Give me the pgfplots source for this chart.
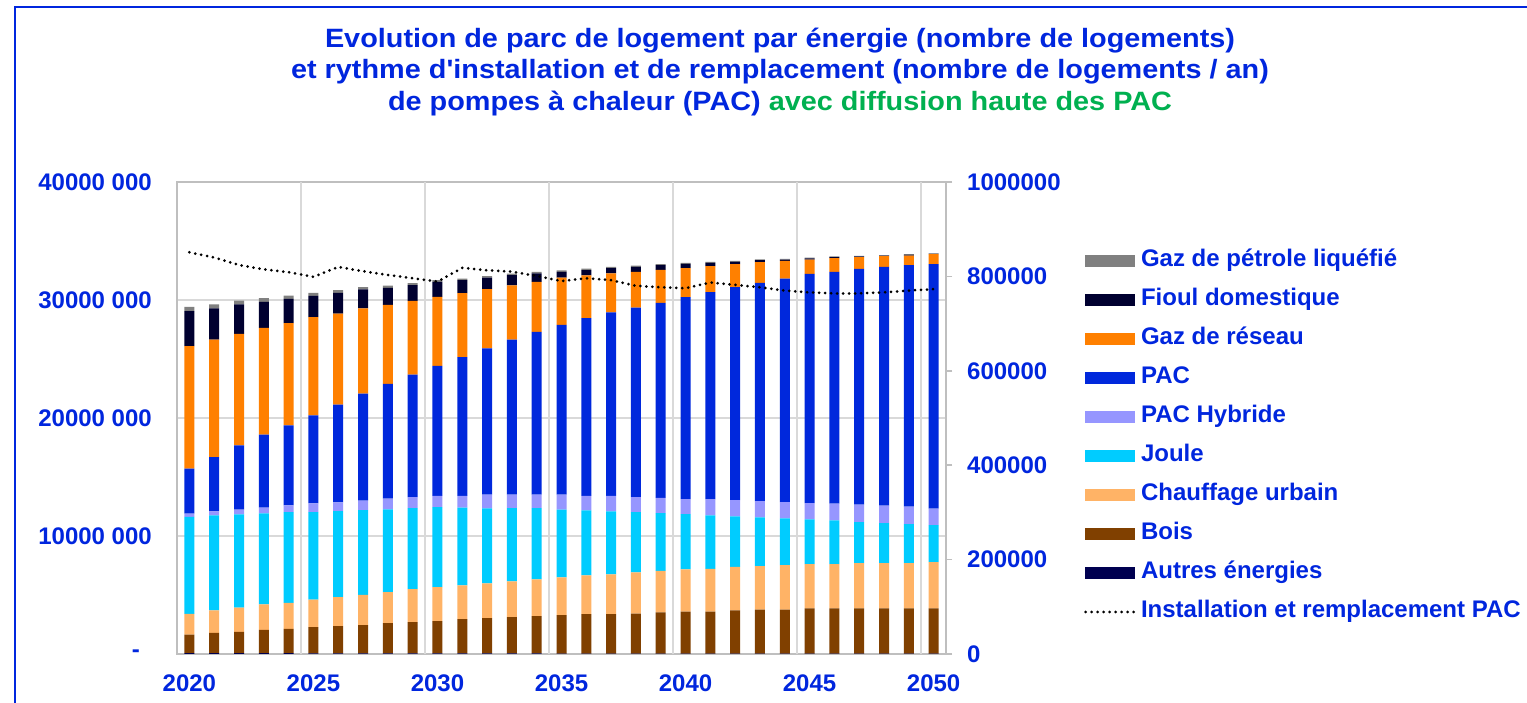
\documentclass[border=0pt]{standalone}
\usepackage{pgfplots}
\pgfplotsset{compat=1.18}
\usepackage{pgfplotstable}
\usepackage{fontspec}
\setmainfont{Liberation Sans}
\definecolor{txtblue}{RGB}{0,38,222}
\definecolor{txtgreen}{RGB}{0,176,80}
\definecolor{axgray}{RGB}{191,191,191}
\definecolor{gridgray}{RGB}{217,217,217}
\definecolor{cAutres}{RGB}{0,0,80}
\definecolor{cBois}{RGB}{128,64,0}
\definecolor{cCU}{RGB}{255,179,102}
\definecolor{cJoule}{RGB}{0,204,255}
\definecolor{cPACH}{RGB}{150,150,255}
\definecolor{cPAC}{RGB}{0,40,220}
\definecolor{cGaz}{RGB}{255,128,0}
\definecolor{cFioul}{RGB}{0,0,48}
\definecolor{cGPL}{RGB}{128,128,128}
\newcommand\ff{\fontsize{24bp}{28bp}\selectfont\bfseries}
\newcommand\tf{\fontsize{26.5bp}{30bp}\selectfont\bfseries}
\newcommand\tl[1]{\scalebox{1.088}[1]{#1}}
\pgfplotsset{
  swatch/.style={legend image code/.code={\fill[##1] (0bp,-6bp) rectangle (50bp,6bp);}},
  dotline/.style={legend image code/.code={\draw[##1] (1bp,0bp) -- (50bp,0bp);}},
}
\pgfplotstableread{
year autres bois cu joule pach pac gaz fioul gpl inst
2020 0.08 1.57 1.76 8.20 0.28 3.82 10.38 2.97 0.36 851000
2021 0.08 1.71 1.90 8.06 0.34 4.60 9.96 2.63 0.35 840000
2022 0.08 1.80 2.06 7.89 0.40 5.46 9.44 2.49 0.33 824000
2023 0.08 1.97 2.15 7.72 0.48 6.19 9.05 2.20 0.31 815000
2024 0.08 2.05 2.21 7.69 0.56 6.79 8.65 2.07 0.28 809000
2025 0.05 2.23 2.32 7.43 0.74 7.46 8.31 1.81 0.25 799000
2026 0.05 2.31 2.46 7.29 0.74 8.28 7.72 1.75 0.23 820000
2027 0.05 2.40 2.57 7.18 0.79 9.08 7.21 1.61 0.20 811000
2028 0.05 2.57 2.62 7.02 0.90 9.73 6.70 1.44 0.18 803000
2029 0.05 2.65 2.80 6.87 0.93 10.38 6.25 1.33 0.16 796000
2030 0.05 2.74 2.88 6.78 0.94 11.02 5.86 1.27 0.14 789000
2031 0.05 2.90 2.86 6.59 0.99 11.76 5.43 1.10 0.14 818000
2032 0.05 2.99 2.94 6.36 1.16 12.41 5.01 0.98 0.13 813000
2033 0.05 3.07 3.03 6.22 1.13 13.15 4.58 0.88 0.13 810000
2034 0.05 3.16 3.11 6.05 1.13 13.80 4.24 0.71 0.13 801000
2035 0.03 3.26 3.20 5.74 1.27 14.39 4.01 0.49 0.13 790000
2036 0.03 3.35 3.28 5.51 1.22 15.07 3.62 0.45 0.12 796000
2037 0.03 3.35 3.36 5.35 1.30 15.55 3.31 0.45 0.11 792000
2038 0.03 3.40 3.48 5.12 1.27 16.06 3.03 0.42 0.10 780000
2039 0.03 3.49 3.53 4.89 1.28 16.54 2.80 0.39 0.09 777000
2040 0.03 3.57 3.57 4.69 1.27 17.11 2.46 0.37 0.08 775000
2041 0.03 3.57 3.62 4.53 1.38 17.53 2.21 0.28 0.07 787000
2042 0.03 3.66 3.70 4.27 1.39 18.04 1.95 0.20 0.07 782000
2043 0.03 3.74 3.68 4.13 1.38 18.49 1.76 0.17 0.06 777000
2044 0.03 3.74 3.76 3.96 1.39 18.94 1.50 0.11 0.06 770000
2045 0.03 3.83 3.76 3.79 1.38 19.43 1.21 0.09 0.06 766000
2046 0.03 3.83 3.76 3.70 1.42 19.65 1.16 0.08 0.06 764000
2047 0.03 3.83 3.84 3.48 1.47 19.99 0.99 0.06 0.05 764000
2048 0.03 3.83 3.84 3.40 1.47 20.24 0.91 0.04 0.05 766000
2049 0.03 3.83 3.84 3.31 1.47 20.47 0.82 0.06 0.05 770000
2050 0.03 3.83 3.93 3.14 1.38 20.73 0.85 0.02 0.05 773000
}\data
\begin{document}
\begin{tikzpicture}[x=1bp,y=1bp]
\useasboundingbox (0,0) rectangle (1527,703);
\fill[white] (0,0) rectangle (1527,703);
\draw[txtblue, line width=2bp] (15,0) -- (15,696) -- (1527,696);
\node[anchor=base, font=\tf, text=txtblue, inner sep=0pt] at (780,655) {\tl{Evolution de parc de logement par énergie (nombre de logements)}};
\node[anchor=base, font=\tf, text=txtblue, inner sep=0pt] at (780,624) {\tl{et rythme d\textquotesingle installation et de remplacement (nombre de logements / an)}};
\node[anchor=base, font=\tf, text=txtblue, inner sep=0pt] at (780,592) {\tl{de pompes à chaleur (PAC) \textcolor{txtgreen}{avec diffusion haute des PAC}}};
\begin{axis}[
  at={(177bp,49bp)}, anchor=south west,
  scale only axis, width=769bp, height=472bp,
  xmin=2019.5, xmax=2050.5, ymin=0, ymax=40,
  ybar stacked, bar width=10bp,
  axis line style={draw=axgray, line width=1.5bp},
  xtick={2020,2025,2030,2035,2040,2045,2050},
  extra x ticks={2024.5,2029.5,2034.5,2039.5,2044.5,2049.5},
  extra x tick labels={},
  extra x tick style={grid=major, major tick length=0pt},
  major grid style={draw=gridgray, line width=1.5bp},
  ytick={0,10,20,30,40},
  yticklabels={{-\hspace*{12bp}}, 10000 000, 20000 000, 30000 000, 40000 000},
  ymajorgrids,
  major tick length=0pt,
  tick style={draw=none},
  xticklabel style={anchor=north, inner sep=0pt, yshift=-21bp, /pgf/number format/assume math mode=true, /pgf/number format/1000 sep={}},
  yticklabel style={anchor=east, inner sep=0pt, xshift=-25bp},
  ticklabel style={font=\ff, text=txtblue},
]
\addplot[fill=cAutres, draw=none] table[x=year, y=autres]{\data};
\addplot[fill=cBois, draw=none] table[x=year, y=bois]{\data};
\addplot[fill=cCU, draw=none] table[x=year, y=cu]{\data};
\addplot[fill=cJoule, draw=none] table[x=year, y=joule]{\data};
\addplot[fill=cPACH, draw=none] table[x=year, y=pach]{\data};
\addplot[fill=cPAC, draw=none] table[x=year, y=pac]{\data};
\addplot[fill=cGaz, draw=none] table[x=year, y=gaz]{\data};
\addplot[fill=cFioul, draw=none] table[x=year, y=fioul]{\data};
\addplot[fill=cGPL, draw=none] table[x=year, y=gpl]{\data};
\end{axis}
\begin{axis}[
  at={(177bp,49bp)}, anchor=south west,
  scale only axis, width=769bp, height=472bp,
  xmin=2019.5, xmax=2050.5, ymin=0, ymax=1000000,
  axis x line=none, axis y line*=right,
  axis line style={draw=axgray, line width=1.5bp},
  ytick={0,200000,400000,600000,800000,1000000},
  scaled y ticks=false,
  tick align=outside, major tick length=6bp,
  ytick style={draw=axgray, line width=1.5bp},
  yticklabel style={anchor=west, inner sep=0pt, xshift=15bp, font=\ff, text=txtblue,
    /pgf/number format/.cd, fixed, precision=0, 1000 sep={}, assume math mode=true},
  legend style={at={(1.1795,0.8581)}, anchor=north west, draw=none, fill=none,
    inner sep=0pt, outer sep=0pt, row sep=15bp, column sep=5bp, font=\ff, text=txtblue,
    nodes={inner sep=0pt, text height=18bp, text depth=6bp}},
  legend cell align=left,
]
\addlegendimage{swatch, fill=cGPL, draw=none}
\addlegendentry{Gaz de pétrole liquéfié}
\addlegendimage{swatch, fill=cFioul, draw=none}
\addlegendentry{Fioul domestique}
\addlegendimage{swatch, fill=cGaz, draw=none}
\addlegendentry{Gaz de réseau}
\addlegendimage{swatch, fill=cPAC, draw=none}
\addlegendentry{PAC}
\addlegendimage{swatch, fill=cPACH, draw=none}
\addlegendentry{PAC Hybride}
\addlegendimage{swatch, fill=cJoule, draw=none}
\addlegendentry{Joule}
\addlegendimage{swatch, fill=cCU, draw=none}
\addlegendentry{Chauffage urbain}
\addlegendimage{swatch, fill=cBois, draw=none}
\addlegendentry{Bois}
\addlegendimage{swatch, fill=cAutres, draw=none}
\addlegendentry{Autres énergies}
\addplot[dotline, black, line width=3bp, line cap=round, dash pattern=on 0bp off 6bp, mark=none] table[x=year, y=inst]{\data};
\addlegendentry{Installation et remplacement PAC}
\end{axis}
\end{tikzpicture}
\end{document}
